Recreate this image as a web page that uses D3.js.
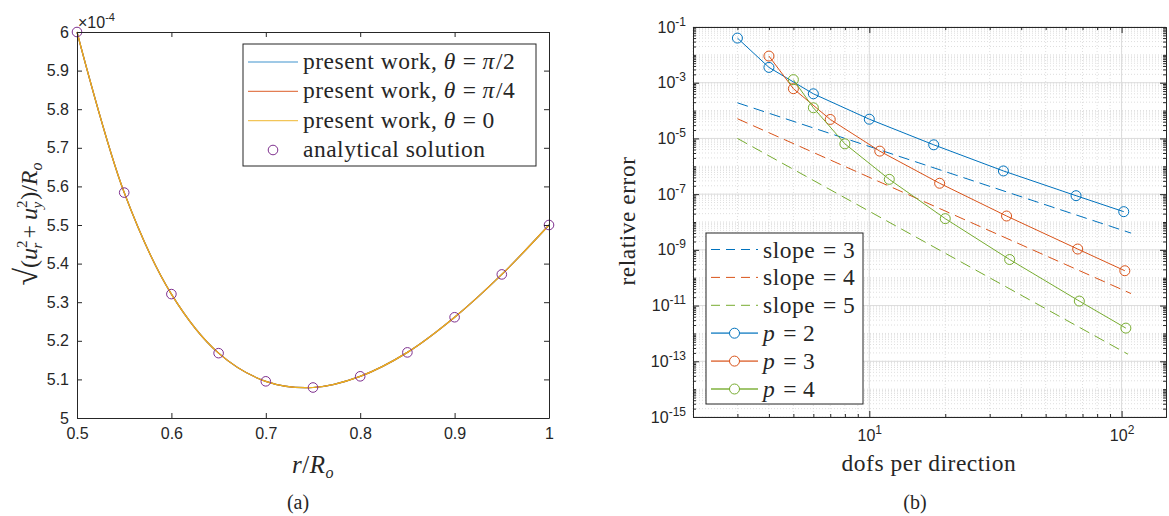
<!DOCTYPE html>
<html>
<head>
<meta charset="utf-8">
<script src="https://cdn.jsdelivr.net/npm/d3@7"></script>
<style>
  body { margin: 0; background: #fff; }
  text { fill: #262626; }
</style>
</head>
<body>
<div id="chart"></div>
<script>
// ---- data: panel (a) ----
var radius = [0.5, 0.55, 0.6, 0.65, 0.7, 0.75, 0.8, 0.85, 0.9, 0.95, 1.0];
var analytical = [6.0, 5.584, 5.321, 5.168, 5.095, 5.079, 5.108, 5.170, 5.261, 5.372, 5.500];
var presentHalfPi = [6.0, 5.584, 5.321, 5.168, 5.095, 5.079, 5.108, 5.170, 5.261, 5.372, 5.500];
var presentQuarterPi = [6.0, 5.584, 5.321, 5.168, 5.095, 5.079, 5.108, 5.170, 5.261, 5.372, 5.500];
var presentZero = [6.0, 5.584, 5.321, 5.168, 5.095, 5.079, 5.108, 5.170, 5.261, 5.372, 5.500];
var xTicksA = [0.5, 0.6, 0.7, 0.8, 0.9, 1];
var yTicksA = [5, 5.1, 5.2, 5.3, 5.4, 5.5, 5.6, 5.7, 5.8, 5.9, 6];

// ---- data: panel (b) ----
var dofsP2 = [3, 4, 6, 10, 18, 34, 66, 102];
var errP2 = [4.0e-2, 3.55e-3, 4.0e-4, 4.9e-5, 5.9e-6, 6.8e-7, 8.8e-8, 2.35e-8];
var dofsP3 = [4, 5, 7, 11, 19, 35, 67, 103];
var errP3 = [9.05e-3, 6.1e-4, 4.8e-5, 3.5e-6, 2.46e-7, 1.64e-8, 1.07e-9, 1.78e-10];
var dofsP4 = [5, 6, 8, 12, 20, 36, 68, 104];
var errP4 = [1.29e-3, 1.26e-4, 6.4e-6, 3.4e-7, 1.32e-8, 4.5e-10, 1.45e-11, 1.55e-12];
var slope3X = [3, 109], slope3Y = [1.9e-4, 4.0e-9];
var slope4X = [3, 109], slope4Y = [5.1e-5, 2.7e-11];
var slope5X = [3, 106], slope5Y = [1.0e-5, 1.8e-13];
var xTicksB = [10, 100];
var xTickExpB = ["1", "2"];
var yTicksB = [1e-15, 1e-13, 1e-11, 1e-9, 1e-7, 1e-5, 1e-3, 1e-1];
var yTickExpB = ["-15", "-13", "-11", "-9", "-7", "-5", "-3", "-1"];

var blue = "#0072BD", red = "#D95319", yellow = "#EDB120", purple = "#7E2F8E", green = "#77AC30";
var axisColor = "#262626";
var sans = "'Liberation Sans', Arial, sans-serif";
var serif = "'Liberation Serif', 'Times New Roman', serif";
var serifSize = 23.5;

var svg = d3.select("#chart").append("svg")
  .attr("width", 1169)
  .attr("height", 516);

function serifText(g, x, y, size) {
  return g.append("text").attr("x", x).attr("y", y)
    .attr("font-family", serif).attr("font-size", size || serifSize)
    .attr("letter-spacing", 0.5);
}

// ================= panel (a) =================
var A = { left: 77, right: 549, top: 32, bottom: 418 };
var xA = d3.scaleLinear().domain([0.5, 1]).range([A.left, A.right]);
var yA = d3.scaleLinear().domain([5, 6]).range([A.bottom, A.top]);
var gA = svg.append("g");

var lineA = d3.line().x(d => xA(d[0])).y(d => yA(d[1])).curve(d3.curveCatmullRom);
[[presentHalfPi, blue], [presentQuarterPi, red], [presentZero, yellow]].forEach(function(s) {
  gA.append("path")
    .datum(radius.map((r, i) => [r, s[0][i]]))
    .attr("d", lineA)
    .attr("fill", "none")
    .attr("stroke", s[1])
    .attr("stroke-width", 1.2);
});

gA.selectAll("circle.an")
  .data(radius.map((r, i) => [r, analytical[i]]))
  .enter().append("circle")
  .attr("class", "an")
  .attr("cx", d => xA(d[0]))
  .attr("cy", d => yA(d[1]))
  .attr("r", 4.8)
  .attr("fill", "none")
  .attr("stroke", purple)
  .attr("stroke-width", 1);

function styleAxis(g) {
  g.select(".domain").attr("stroke", axisColor).attr("stroke-width", 1);
  g.selectAll(".tick line").attr("stroke", axisColor).attr("stroke-width", 1);
  g.selectAll("text").attr("fill", axisColor);
}

gA.append("g").attr("transform", `translate(0,${A.bottom})`)
  .call(d3.axisBottom(xA).tickValues(xTicksA).tickSize(-5).tickSizeOuter(0).tickPadding(10).tickFormat(d3.format("")))
  .call(styleAxis)
  .selectAll("text").attr("font-family", sans).attr("font-size", 16);
gA.append("g").attr("transform", `translate(0,${A.top})`)
  .call(d3.axisTop(xA).tickValues(xTicksA).tickSize(-5).tickSizeOuter(0).tickFormat(""))
  .call(styleAxis);
gA.append("g").attr("transform", `translate(${A.left},0)`)
  .call(d3.axisLeft(yA).tickValues(yTicksA).tickSize(-5).tickSizeOuter(0).tickPadding(8).tickFormat(d3.format("")))
  .call(styleAxis)
  .selectAll("text").attr("font-family", sans).attr("font-size", 16);
gA.append("g").attr("transform", `translate(${A.right},0)`)
  .call(d3.axisRight(yA).tickValues(yTicksA).tickSize(-5).tickSizeOuter(0).tickFormat(""))
  .call(styleAxis);

// exponent
var expA = gA.append("text").attr("x", A.left + 1).attr("y", 28)
  .attr("font-family", sans).attr("font-size", 16);
expA.append("tspan").text("×10");
expA.append("tspan").attr("dy", -7).attr("font-size", 11).text("-4");

// legend (a)
var legA = gA.append("g");
legA.append("rect").attr("x", 243).attr("y", 44).attr("width", 293).attr("height", 122)
  .attr("fill", "#fff").attr("stroke", axisColor).attr("stroke-width", 1);
var legAItems = [["π/2", blue], ["π/4", red], ["0", yellow]];
legAItems.forEach(function(it, i) {
  var yy = 62 + i * 29.3;
  legA.append("line").attr("x1", 248).attr("x2", 298).attr("y1", yy).attr("y2", yy)
    .attr("stroke", it[1]).attr("stroke-width", 1.2).attr("stroke-opacity", 0.75);
  var t = serifText(legA, 303, yy + 7);
  t.append("tspan").text("present work, ");
  t.append("tspan").attr("font-style", "italic").text("θ");
  t.append("tspan").attr("dx", 7).text("=");
  if (it[0] === "0") t.append("tspan").attr("dx", 6).text("0");
  else {
    t.append("tspan").attr("dx", 6).attr("font-style", "italic").text("π");
    t.append("tspan").attr("dx", 1).text(it[0].slice(1));
  }
});
legA.append("circle").attr("cx", 273).attr("cy", 150).attr("r", 4.8)
  .attr("fill", "none").attr("stroke", purple);
serifText(legA, 303, 157).text("analytical solution");

// axis labels (a)
var xl = serifText(gA, 313, 473, 25).attr("text-anchor", "middle");
xl.append("tspan").attr("font-style", "italic").text("r");
xl.append("tspan").text("/");
xl.append("tspan").attr("font-style", "italic").text("R");
xl.append("tspan").attr("font-style", "italic").attr("font-size", 16).attr("dy", 5).text("o");

var yl = gA.append("text").attr("transform", "translate(37,224) rotate(-90)")
  .attr("text-anchor", "middle").attr("font-family", serif).attr("font-size", 24);
yl.append("tspan").attr("font-size", 32).text("√");
yl.append("tspan").text("(");
yl.append("tspan").attr("font-style", "italic").text("u");
yl.append("tspan").attr("font-size", 15).attr("dy", -10).text("2");
yl.append("tspan").attr("font-size", 15).attr("font-style", "italic").attr("dx", -8).attr("dy", 15).text("r");
yl.append("tspan").attr("dy", -5).attr("dx", 4).text("+");
yl.append("tspan").attr("dx", 5).attr("font-style", "italic").text("u");
yl.append("tspan").attr("font-size", 15).attr("dy", -10).text("2");
yl.append("tspan").attr("font-size", 15).attr("font-style", "italic").attr("dx", -8).attr("dy", 15).text("y");
yl.append("tspan").attr("dy", -5).attr("dx", 2).text(")/");
yl.append("tspan").attr("font-style", "italic").text("R");
yl.append("tspan").attr("font-style", "italic").attr("font-size", 16).attr("dy", 5).text("o");

serifText(gA, 298, 509, 20).attr("text-anchor", "middle").attr("letter-spacing", 0).text("(a)");

// ================= panel (b) =================
var B = { left: 693, right: 1166, top: 27, bottom: 417 };
var xB = d3.scaleLog().domain([2, 150]).range([B.left, B.right]);
var yB = d3.scaleLog().domain([1e-15, 1e-1]).range([B.bottom, B.top]);
var gB = svg.append("g");

// minor positions
var xMinor = [];
[1, 10, 100].forEach(function(dec) {
  for (var m = 1; m < 10; m++) { var v = m * dec; if (v >= 2 && v <= 150) xMinor.push(v); }
});
var yMinor = [];
for (var e = -15; e < -1; e++) {
  for (var m = 1; m < 10; m++) yMinor.push(m * Math.pow(10, e));
}
yMinor.push(1e-1);

// grid
var grid = gB.append("g");
grid.selectAll("line.xm").data(xMinor).enter().append("line")
  .attr("x1", d => xB(d)).attr("x2", d => xB(d)).attr("y1", B.top).attr("y2", B.bottom)
  .attr("stroke", "#d0d0d0").attr("stroke-width", 0.7).attr("stroke-dasharray", "1,2");
grid.selectAll("line.ym").data(yMinor).enter().append("line")
  .attr("y1", d => yB(d)).attr("y2", d => yB(d)).attr("x1", B.left).attr("x2", B.right)
  .attr("stroke", "#d0d0d0").attr("stroke-width", 0.7).attr("stroke-dasharray", "1,2");
grid.selectAll("line.xM").data(xTicksB).enter().append("line")
  .attr("x1", d => xB(d)).attr("x2", d => xB(d)).attr("y1", B.top).attr("y2", B.bottom)
  .attr("stroke", "#dcdcdc").attr("stroke-width", 1);
grid.selectAll("line.yM").data(yTicksB).enter().append("line")
  .attr("y1", d => yB(d)).attr("y2", d => yB(d)).attr("x1", B.left).attr("x2", B.right)
  .attr("stroke", "#dcdcdc").attr("stroke-width", 1);

// slope lines
var lineB = d3.line().x(d => xB(d[0])).y(d => yB(d[1]));
[[slope3X, slope3Y, blue], [slope4X, slope4Y, red], [slope5X, slope5Y, green]].forEach(function(s) {
  gB.append("path")
    .datum(s[0].map((x, i) => [x, s[1][i]]))
    .attr("d", lineB)
    .attr("fill", "none")
    .attr("stroke", s[2])
    .attr("stroke-width", 1)
    .attr("stroke-dasharray", "11,6");
});

// convergence curves
[[dofsP2, errP2, blue], [dofsP3, errP3, red], [dofsP4, errP4, green]].forEach(function(s) {
  var pts = s[0].map((x, i) => [x, s[1][i]]);
  gB.append("path").datum(pts).attr("d", lineB)
    .attr("fill", "none").attr("stroke", s[2]).attr("stroke-width", 1);
  gB.selectAll(null).data(pts).enter().append("circle")
    .attr("cx", d => xB(d[0])).attr("cy", d => yB(d[1])).attr("r", 5)
    .attr("fill", "none").attr("stroke", s[2]).attr("stroke-width", 1);
});

// axes (b)
var xMinorOnly = xMinor.filter(v => xTicksB.indexOf(v) < 0);
var yMinorOnly = yMinor.filter(v => yTicksB.indexOf(v) < 0);

gB.append("g").attr("transform", `translate(0,${B.bottom})`)
  .call(d3.axisBottom(xB).tickValues(xTicksB).tickSize(-6).tickSizeOuter(0).tickPadding(13).tickFormat(() => "10"))
  .call(styleAxis)
  .selectAll("text").attr("font-family", sans).attr("font-size", 16)
  .each(function(d, i) {
    d3.select(this).append("tspan").attr("dy", -7).attr("font-size", 12).text(xTickExpB[i]);
  });
gB.append("g").attr("transform", `translate(0,${B.bottom})`)
  .call(d3.axisBottom(xB).tickValues(xMinorOnly).tickSize(-3).tickSizeOuter(0).tickFormat(""))
  .call(styleAxis);
gB.append("g").attr("transform", `translate(0,${B.top})`)
  .call(d3.axisTop(xB).tickValues(xTicksB).tickSize(-6).tickSizeOuter(0).tickFormat(""))
  .call(styleAxis);
gB.append("g").attr("transform", `translate(0,${B.top})`)
  .call(d3.axisTop(xB).tickValues(xMinorOnly).tickSize(-3).tickSizeOuter(0).tickFormat(""))
  .call(styleAxis);

gB.append("g").attr("transform", `translate(${B.left},0)`)
  .call(d3.axisLeft(yB).tickValues(yTicksB).tickSize(-6).tickSizeOuter(0).tickPadding(7).tickFormat(() => "10"))
  .call(styleAxis)
  .selectAll("text").attr("font-family", sans).attr("font-size", 16)
  .each(function(d, i) {
    var t = d3.select(this).text("");
    t.append("tspan").text("10");
    t.append("tspan").attr("dy", -7).attr("font-size", 12).text(yTickExpB[i]);
  });
gB.append("g").attr("transform", `translate(${B.left},0)`)
  .call(d3.axisLeft(yB).tickValues(yMinorOnly).tickSize(-3).tickSizeOuter(0).tickFormat(""))
  .call(styleAxis);
gB.append("g").attr("transform", `translate(${B.right},0)`)
  .call(d3.axisRight(yB).tickValues(yTicksB).tickSize(-6).tickSizeOuter(0).tickFormat(""))
  .call(styleAxis);
gB.append("g").attr("transform", `translate(${B.right},0)`)
  .call(d3.axisRight(yB).tickValues(yMinorOnly).tickSize(-3).tickSizeOuter(0).tickFormat(""))
  .call(styleAxis);

// legend (b)
var legB = gB.append("g");
legB.append("rect").attr("x", 706).attr("y", 233).attr("width", 157).attr("height", 171)
  .attr("fill", "#fff").attr("stroke", axisColor).attr("stroke-width", 1);
var legBItems = [
  ["slope", "3", blue, true], ["slope", "4", red, true], ["slope", "5", green, true],
  ["p", "2", blue, false], ["p", "3", red, false], ["p", "4", green, false]
];
legBItems.forEach(function(it, i) {
  var yy = 249.5 + i * 27.9;
  legB.append("line").attr("x1", 711).attr("x2", 758).attr("y1", yy).attr("y2", yy)
    .attr("stroke", it[2]).attr("stroke-opacity", it[3] ? 1 : 0.7)
    .attr("stroke-width", it[3] ? 1 : 1.8)
    .attr("stroke-dasharray", it[3] ? "9,6" : null);
  if (!it[3]) {
    legB.append("circle").attr("cx", 734.5).attr("cy", yy).attr("r", 5)
      .attr("fill", "#fff").attr("stroke", it[2]);
  }
  var t = serifText(legB, 763, yy + 8);
  t.append("tspan").attr("font-style", it[3] ? "normal" : "italic").text(it[0]);
  t.append("tspan").attr("dx", 8).text("=");
  t.append("tspan").attr("dx", 6).text(it[1]);
});

serifText(gB, 929, 471).attr("text-anchor", "middle").text("dofs per direction");
serifText(gB, 0, 0).attr("transform", "translate(635,221) rotate(-90)").attr("text-anchor", "middle")
  .text("relative error");
serifText(gB, 915, 509, 20).attr("text-anchor", "middle").attr("letter-spacing", 0).text("(b)");
</script>
</body>
</html>
